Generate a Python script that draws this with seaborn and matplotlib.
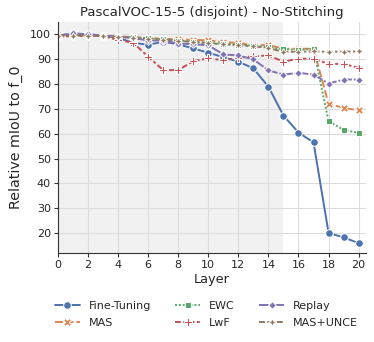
import pandas as pd
import matplotlib
matplotlib.use("Agg")
import matplotlib.pyplot as plt
import seaborn as sns

# ----------------------------------------------------------
# Data
# ----------------------------------------------------------

layers = list(range(21))

fine_tuning = [99.5, 100.2, 100.0, 99.5, 98.6, 96.6, 95.8, 97.0, 96.0, 94.3,
               92.6, 90.8, 89.0, 86.3, 78.9, 67.3, 60.5, 56.5, 20.1, 18.3, 16.0]
mas = [99.6, 99.6, 99.6, 99.5, 99.1, 98.9, 98.5, 98.2, 98.0, 97.8,
       97.6, 96.9, 96.5, 95.6, 95.7, 94.2, 94.2, 94.2, 72.1, 70.4, 69.4]
ewc = [99.5, 99.6, 99.6, 99.3, 99.0, 98.8, 98.4, 98.0, 97.5, 97.0,
       96.6, 96.2, 95.8, 95.4, 94.8, 94.0, 93.8, 94.0, 65.0, 61.6, 60.3]
lwf = [99.0, 99.3, 99.5, 99.3, 97.7, 96.6, 91.0, 85.6, 85.6, 89.2,
       90.3, 89.6, 90.6, 91.2, 91.5, 89.0, 90.2, 90.2, 88.1, 88.1, 86.5]
replay = [99.5, 100.4, 100.0, 99.5, 99.0, 98.5, 97.5, 97.5, 96.3, 96.0,
          95.6, 91.9, 91.5, 89.9, 85.5, 83.8, 84.5, 83.8, 80.2, 81.8, 81.8]
mas_unce = [99.5, 99.5, 99.5, 99.3, 99.0, 98.7, 98.2, 97.8, 97.3, 97.0,
            96.4, 96.0, 95.6, 95.2, 94.5, 92.9, 93.0, 93.1, 93.0, 93.0, 93.1]

methods = ["Fine-Tuning", "MAS", "EWC", "LwF", "Replay", "MAS+UNCE"]
series = [fine_tuning, mas, ewc, lwf, replay, mas_unce]

rows = []
for name, vals in zip(methods, series):
    for layer, v in zip(layers, vals):
        rows.append({"Layer": layer, "value": v, "method": name})
df = pd.DataFrame(rows)

# ----------------------------------------------------------
# Plot
# ----------------------------------------------------------

sns.set_style("whitegrid", {
    "axes.edgecolor": "#333333",
    "grid.color": "#dcdcdc",
    "xtick.bottom": True,
    "ytick.left": True,
})

fig = plt.figure(figsize=(3.74, 3.42), dpi=100)
ax = fig.add_axes([0.155, 0.26, 0.824, 0.676])

# first 15 layers shaded
ax.axvspan(0, 15, color="#f1f1f1", zorder=0, lw=0)

sns.lineplot(
    data=df, x="Layer", y="value",
    hue="method", style="method",
    hue_order=methods, style_order=methods,
    palette="deep",
    markers=True, markersize=5.5, linewidth=1.4,
    ax=ax
)

sns.despine(ax=ax)
ax.set_xlim(0, 20.5)
ax.set_ylim(12, 105)
ax.set_xticks(range(0, 21, 2))
ax.set_yticks(range(20, 101, 10))
ax.tick_params(labelsize=8, length=3, color="#333333", pad=2)
ax.set_xlabel("Layer", fontsize=9.3, labelpad=2)
ax.set_ylabel("Relative mIoU to f_0", fontsize=10.3, labelpad=5)
ax.set_title("PascalVOC-15-5 (disjoint) - No-Stitching", fontsize=9.5, pad=4)

handles, labels = ax.get_legend_handles_labels()
ax.legend(
    handles, labels,
    loc="upper center", bbox_to_anchor=(0.482, -0.165),
    ncol=3, frameon=False, fontsize=8,
    columnspacing=2.2, handlelength=2.25, handletextpad=0.8,
    labelspacing=0.6
)

fig.savefig("out.png", dpi=100)
